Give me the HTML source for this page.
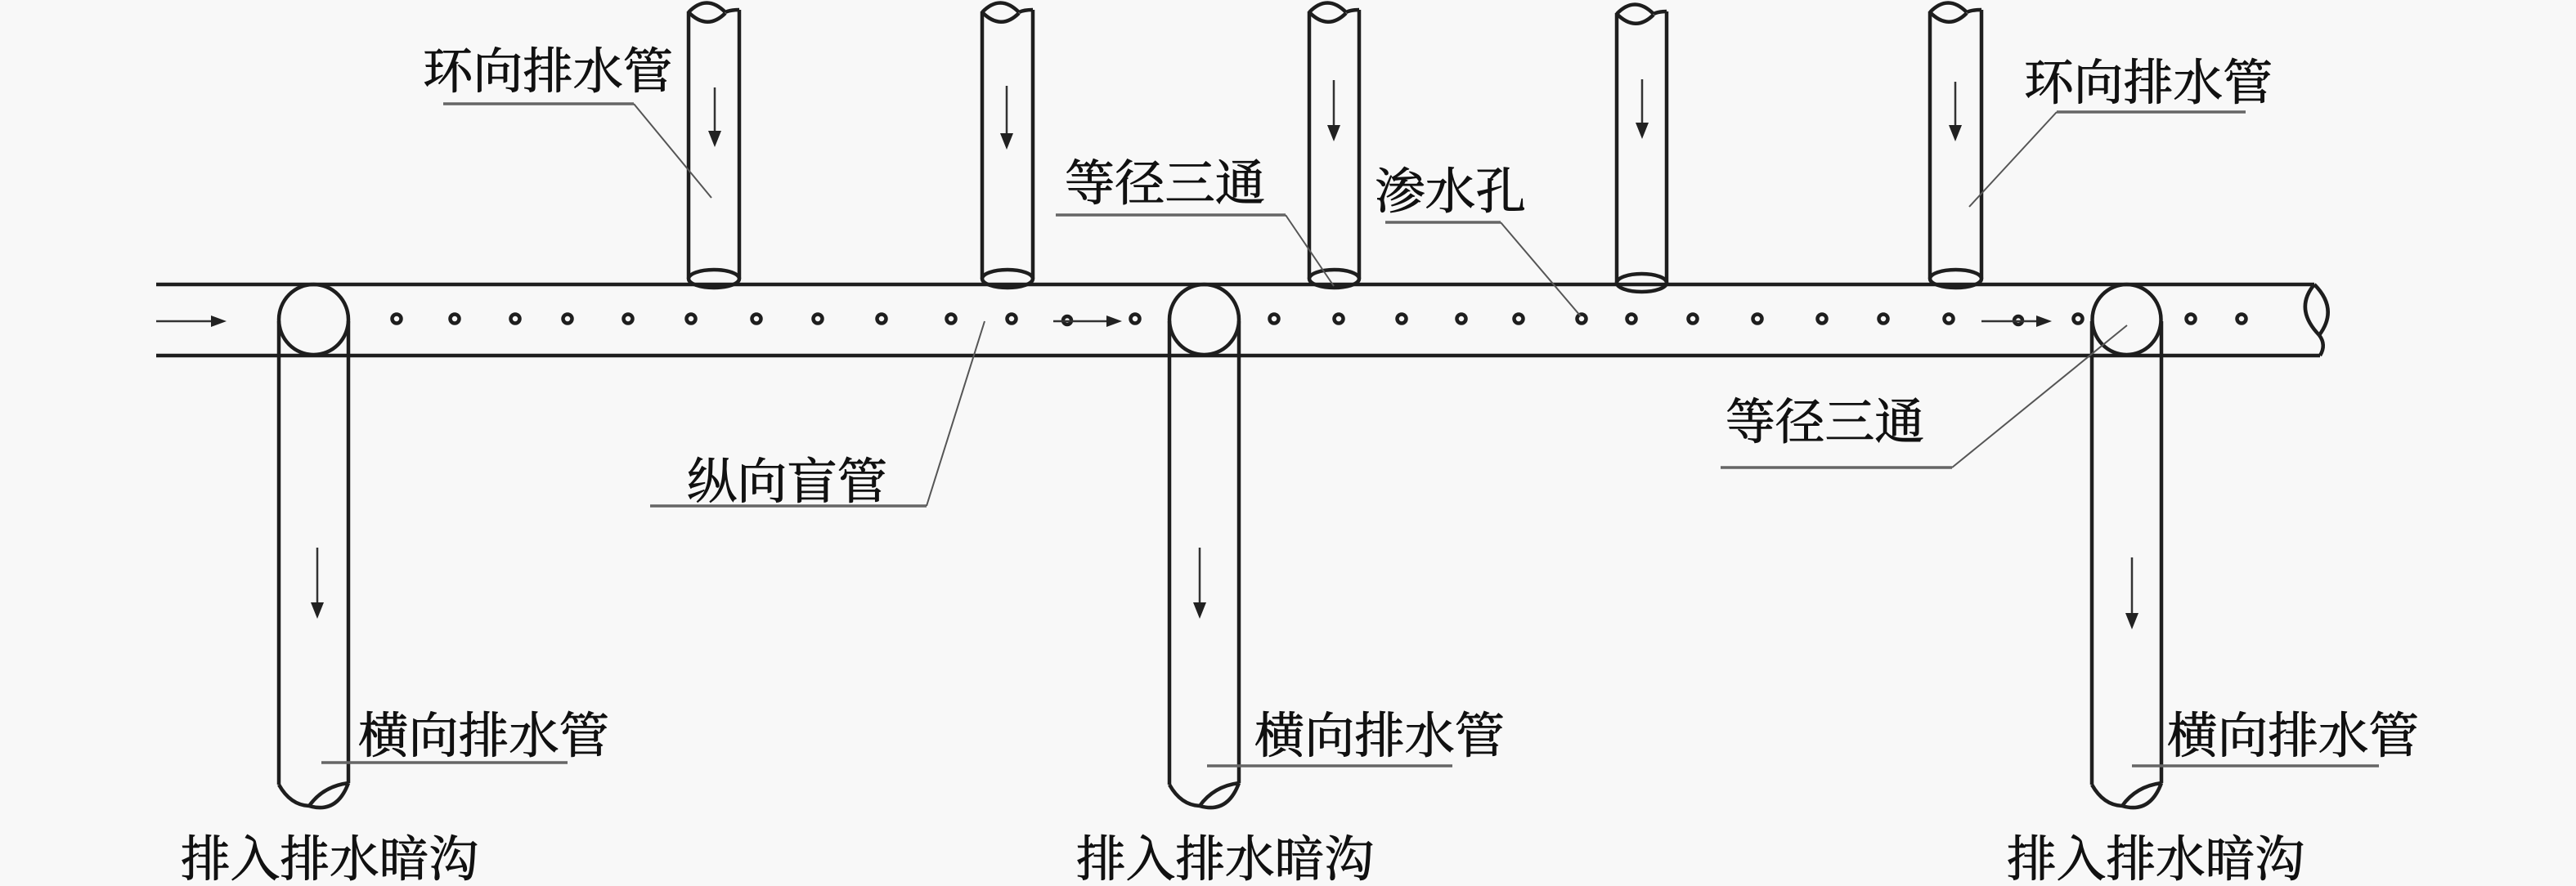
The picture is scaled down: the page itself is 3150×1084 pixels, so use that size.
<!DOCTYPE html>
<html><head><meta charset="utf-8"><style>
html,body{margin:0;padding:0;background:#f8f8f8;}
svg{display:block;}
text{font-family:"Liberation Serif","Noto Serif CJK SC","Noto Serif CJK JP",serif;font-size:60px;fill:#111;stroke:#111;stroke-width:0.9;}
</style></head><body>
<svg width="3150" height="1084" viewBox="0 0 3150 1084" xmlns="http://www.w3.org/2000/svg">
<rect width="3150" height="1084" fill="#f8f8f8"/>
<g fill="none" stroke="#1e1e1e" stroke-width="4.5">
  <!-- main pipe -->
  <line x1="191" y1="348" x2="2830" y2="348"/>
  <line x1="191" y1="435" x2="2837" y2="435"/>
  <!-- right break -->
  <path d="M2830,348 Q2805,378 2836,410"/>
  <path d="M2830,348 Q2860,378 2836,410"/>
  <path d="M2836,410 Q2845,422 2837,435"/>

  <!-- up pipes -->
  <line x1="842" y1="14" x2="842" y2="341"/><line x1="904" y1="12" x2="904" y2="341"/>
  <path d="M842,15 Q864,-8 887,15 M842,15 Q865,38 887,16 M887,15 Q893,12 904,12"/>
  <ellipse cx="873" cy="341" rx="31" ry="11"/>

  <line x1="1201" y1="14" x2="1201" y2="341"/><line x1="1263" y1="12" x2="1263" y2="341"/>
  <path d="M1201,15 Q1223,-8 1246,15 M1201,15 Q1224,38 1246,16 M1246,15 Q1252,12 1263,12"/>
  <ellipse cx="1232" cy="341" rx="31" ry="11"/>

  <line x1="1601" y1="14" x2="1601" y2="341"/><line x1="1662" y1="12" x2="1662" y2="341"/>
  <path d="M1601,15 Q1623,-8 1646,15 M1601,15 Q1624,38 1646,16 M1646,15 Q1652,12 1662,12"/>
  <ellipse cx="1631.5" cy="341" rx="30.5" ry="11"/>

  <line x1="1977" y1="16" x2="1977" y2="346"/><line x1="2038" y1="14" x2="2038" y2="346"/>
  <path d="M1977,17 Q1999,-6 2022,17 M1977,17 Q2000,40 2022,18 M2022,17 Q2028,14 2038,14"/>
  <ellipse cx="2007.5" cy="346" rx="30.5" ry="11"/>

  <line x1="2360" y1="14" x2="2360" y2="341"/><line x1="2423" y1="12" x2="2423" y2="341"/>
  <path d="M2360,15 Q2382,-8 2405,15 M2360,15 Q2383,38 2405,16 M2405,15 Q2411,12 2423,12"/>
  <ellipse cx="2391.5" cy="341" rx="31.5" ry="11"/>

  <!-- down pipes with tee circles -->
  <ellipse cx="383.5" cy="391" rx="42.5" ry="43"/>
  <line x1="341" y1="393" x2="341" y2="960"/><line x1="426" y1="393" x2="426" y2="958"/>
  <path d="M341,960 Q355,985 378,986 M378,986 Q395,962 426,958 M378,986 Q412,996 426,958"/>

  <ellipse cx="1472.5" cy="391" rx="42.5" ry="43"/>
  <line x1="1430" y1="393" x2="1430" y2="960"/><line x1="1515" y1="393" x2="1515" y2="958"/>
  <path d="M1430,960 Q1444,985 1467,986 M1467,986 Q1484,962 1515,958 M1467,986 Q1501,996 1515,958"/>

  <ellipse cx="2600.5" cy="391" rx="42" ry="43"/>
  <line x1="2558" y1="393" x2="2558" y2="960"/><line x1="2643" y1="393" x2="2643" y2="958"/>
  <path d="M2558,960 Q2572,985 2595,986 M2595,986 Q2612,962 2643,958 M2595,986 Q2629,996 2643,958"/>
</g>

<!-- holes -->
<g fill="none" stroke="#1e1e1e" stroke-width="4.5">
  <circle cx="485" cy="390" r="5.5"/><circle cx="556" cy="390" r="5.5"/><circle cx="630" cy="390" r="5.5"/>
  <circle cx="694" cy="390" r="5.5"/><circle cx="768" cy="390" r="5.5"/><circle cx="845" cy="390" r="5.5"/>
  <circle cx="925" cy="390" r="5.5"/><circle cx="1000" cy="390" r="5.5"/><circle cx="1078" cy="390" r="5.5"/>
  <circle cx="1163" cy="390" r="5.5"/><circle cx="1237" cy="390" r="5.5"/><circle cx="1305" cy="392" r="5"/>
  <circle cx="1388" cy="390" r="5.5"/>
  <circle cx="1558" cy="390" r="5.5"/><circle cx="1637" cy="390" r="5.5"/><circle cx="1714" cy="390" r="5.5"/>
  <circle cx="1787" cy="390" r="5.5"/><circle cx="1857" cy="390" r="5.5"/><circle cx="1934" cy="390" r="5.5"/>
  <circle cx="1995" cy="390" r="5.5"/><circle cx="2070" cy="390" r="5.5"/><circle cx="2149" cy="390" r="5.5"/>
  <circle cx="2228" cy="390" r="5.5"/><circle cx="2303" cy="390" r="5.5"/><circle cx="2383" cy="390" r="5.5"/>
  <circle cx="2468" cy="392" r="5"/><circle cx="2541" cy="390" r="5.5"/>
  <circle cx="2679" cy="390" r="5.5"/><circle cx="2741" cy="390" r="5.5"/>
</g>

<!-- arrows -->
<g stroke="#333" stroke-width="2.5" fill="none">
  <line x1="191" y1="393" x2="262" y2="393"/>
  <line x1="1288" y1="393" x2="1356" y2="393"/>
  <line x1="2423" y1="393" x2="2493" y2="393"/>
  <line x1="874" y1="107" x2="874" y2="165"/>
  <line x1="1231" y1="105" x2="1231" y2="168"/>
  <line x1="1631" y1="98" x2="1631" y2="158"/>
  <line x1="2008" y1="97" x2="2008" y2="155"/>
  <line x1="2391" y1="100" x2="2391" y2="158"/>
  <line x1="388" y1="670" x2="388" y2="742"/>
  <line x1="1467" y1="670" x2="1467" y2="742"/>
  <line x1="2607" y1="682" x2="2607" y2="755"/>
</g>
<g fill="#222">
  <polygon points="277,393 258,386 258,400"/>
  <polygon points="1372,393 1353,386 1353,400"/>
  <polygon points="2509,393 2490,386 2490,400"/>
  <polygon points="874,180 866,160 882,160"/>
  <polygon points="1231,183 1223,163 1239,163"/>
  <polygon points="1631,173 1623,153 1639,153"/>
  <polygon points="2008,170 2000,150 2016,150"/>
  <polygon points="2391,173 2383,153 2399,153"/>
  <polygon points="388,757 380,737 396,737"/>
  <polygon points="1467,757 1459,737 1475,737"/>
  <polygon points="2607,770 2599,750 2615,750"/>
</g>

<!-- leader lines -->
<g fill="none" stroke="#666" stroke-width="3.5">
  <line x1="542" y1="127" x2="775" y2="127"/>
  <line x1="2515" y1="137" x2="2746" y2="137"/>
  <line x1="1291" y1="263" x2="1572" y2="263"/>
  <line x1="1694" y1="272" x2="1835" y2="272"/>
  <line x1="795" y1="619" x2="1133" y2="619"/>
  <line x1="2104" y1="572" x2="2387" y2="572"/>
  <line x1="393" y1="933" x2="694" y2="933"/>
  <line x1="1476" y1="937" x2="1776" y2="937"/>
  <line x1="2607" y1="937" x2="2909" y2="937"/>
</g>
<g fill="none" stroke="#555" stroke-width="2">
  <line x1="775" y1="127" x2="870" y2="242"/>
  <line x1="2515" y1="137" x2="2408" y2="253"/>
  <line x1="1572" y1="263" x2="1631" y2="350"/>
  <line x1="1835" y1="272" x2="1933" y2="387"/>
  <line x1="1133" y1="619" x2="1204" y2="393"/>
  <line x1="2387" y1="572" x2="2601" y2="398"/>
</g>

<!-- labels -->
<text x="517" y="108" textLength="306" lengthAdjust="spacingAndGlyphs">环向排水管</text>
<text x="2475" y="122" textLength="304" lengthAdjust="spacingAndGlyphs">环向排水管</text>
<text x="1302" y="245" textLength="245" lengthAdjust="spacingAndGlyphs">等径三通</text>
<text x="1681" y="255" textLength="185" lengthAdjust="spacingAndGlyphs">渗水孔</text>
<text x="840" y="610" textLength="245" lengthAdjust="spacingAndGlyphs">纵向盲管</text>
<text x="2110" y="537" textLength="243" lengthAdjust="spacingAndGlyphs">等径三通</text>
<text x="438" y="921" textLength="307" lengthAdjust="spacingAndGlyphs">横向排水管</text>
<text x="1534" y="921" textLength="306" lengthAdjust="spacingAndGlyphs">横向排水管</text>
<text x="2650" y="921" textLength="308" lengthAdjust="spacingAndGlyphs">横向排水管</text>
<text x="221" y="1072" textLength="364" lengthAdjust="spacingAndGlyphs">排入排水暗沟</text>
<text x="1316" y="1072" textLength="364" lengthAdjust="spacingAndGlyphs">排入排水暗沟</text>
<text x="2454" y="1072" textLength="364" lengthAdjust="spacingAndGlyphs">排入排水暗沟</text>
</svg>
</body></html>
